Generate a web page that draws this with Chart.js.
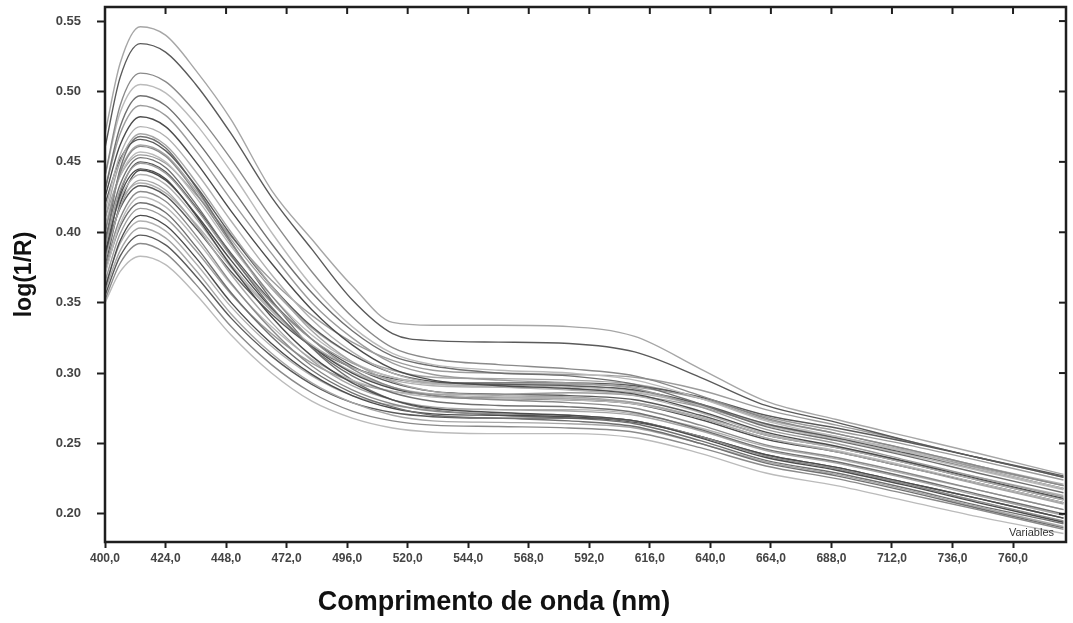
<!DOCTYPE html>
<html>
<head>
<meta charset="utf-8">
<script src="https://cdn.jsdelivr.net/npm/chart.js@4.4.0/dist/chart.umd.min.js"></script>
<style>
    html, body { margin: 0; padding: 0; background: #fff; }
    #wrap { width: 1073px; height: 623px; }
</style>
</head>
<body>
<div id="wrap"><canvas id="spectra-chart" width="1073" height="623"></canvas></div>
<script>
const wavelengths = [400, 406, 414, 424, 436, 450, 466, 482, 498, 514, 530, 556, 584, 610, 636, 662, 690, 718, 746, 780];
const xTicks = [400, 424, 448, 472, 496, 520, 544, 568, 592, 616, 640, 664, 688, 712, 736, 760];
const yTicks = [0.20, 0.25, 0.30, 0.35, 0.40, 0.45, 0.50, 0.55];

// log(1/R) per sample
const s01 = [0.470, 0.520, 0.546, 0.540, 0.515, 0.480, 0.430, 0.395, 0.362, 0.336, 0.334, 0.334, 0.333, 0.326, 0.303, 0.280, 0.267, 0.255, 0.243, 0.228];
const s02 = [0.460, 0.510, 0.534, 0.528, 0.505, 0.470, 0.425, 0.388, 0.352, 0.328, 0.323, 0.322, 0.321, 0.315, 0.297, 0.277, 0.265, 0.252, 0.240, 0.226];
const s03 = [0.440, 0.490, 0.513, 0.507, 0.485, 0.452, 0.410, 0.372, 0.340, 0.318, 0.310, 0.306, 0.303, 0.298, 0.284, 0.268, 0.257, 0.246, 0.234, 0.220];
const s04 = [0.440, 0.485, 0.505, 0.499, 0.477, 0.443, 0.400, 0.362, 0.333, 0.314, 0.306, 0.302, 0.300, 0.295, 0.282, 0.266, 0.255, 0.244, 0.232, 0.218];
const s05 = [0.430, 0.475, 0.497, 0.490, 0.466, 0.432, 0.392, 0.357, 0.330, 0.312, 0.305, 0.300, 0.298, 0.292, 0.278, 0.262, 0.252, 0.241, 0.229, 0.215];
const s06 = [0.430, 0.470, 0.490, 0.483, 0.458, 0.423, 0.385, 0.350, 0.325, 0.307, 0.299, 0.295, 0.293, 0.289, 0.276, 0.260, 0.250, 0.238, 0.226, 0.212];
const s07 = [0.425, 0.462, 0.482, 0.475, 0.450, 0.415, 0.378, 0.345, 0.320, 0.303, 0.295, 0.291, 0.289, 0.285, 0.273, 0.258, 0.248, 0.237, 0.225, 0.211];
const s08 = [0.415, 0.455, 0.475, 0.468, 0.443, 0.408, 0.370, 0.338, 0.315, 0.300, 0.293, 0.290, 0.288, 0.284, 0.272, 0.257, 0.247, 0.236, 0.224, 0.210];
const s09 = [0.410, 0.450, 0.470, 0.462, 0.436, 0.400, 0.362, 0.330, 0.308, 0.294, 0.287, 0.284, 0.283, 0.279, 0.268, 0.254, 0.244, 0.233, 0.221, 0.207];
const s10 = [0.420, 0.452, 0.466, 0.458, 0.433, 0.398, 0.362, 0.333, 0.313, 0.300, 0.294, 0.292, 0.291, 0.288, 0.278, 0.264, 0.254, 0.243, 0.232, 0.218];
const s11 = [0.400, 0.442, 0.461, 0.454, 0.428, 0.392, 0.355, 0.324, 0.303, 0.290, 0.284, 0.281, 0.279, 0.275, 0.263, 0.249, 0.240, 0.229, 0.217, 0.203];
const s12 = [0.405, 0.440, 0.457, 0.450, 0.425, 0.390, 0.355, 0.327, 0.308, 0.297, 0.292, 0.291, 0.290, 0.287, 0.277, 0.263, 0.253, 0.242, 0.231, 0.217];
const s13 = [0.395, 0.434, 0.453, 0.446, 0.420, 0.384, 0.347, 0.318, 0.298, 0.286, 0.280, 0.277, 0.276, 0.272, 0.260, 0.246, 0.237, 0.226, 0.214, 0.200];
const s14 = [0.390, 0.430, 0.449, 0.442, 0.417, 0.383, 0.350, 0.324, 0.307, 0.297, 0.293, 0.292, 0.292, 0.290, 0.282, 0.269, 0.259, 0.249, 0.238, 0.224];
const s15 = [0.385, 0.426, 0.445, 0.438, 0.412, 0.376, 0.340, 0.312, 0.293, 0.281, 0.275, 0.272, 0.270, 0.266, 0.254, 0.240, 0.231, 0.220, 0.208, 0.194];
const s16 = [0.390, 0.424, 0.441, 0.434, 0.410, 0.377, 0.345, 0.320, 0.304, 0.295, 0.291, 0.290, 0.289, 0.286, 0.277, 0.264, 0.255, 0.245, 0.234, 0.221];
const s17 = [0.380, 0.418, 0.437, 0.430, 0.405, 0.370, 0.336, 0.309, 0.291, 0.281, 0.276, 0.274, 0.273, 0.270, 0.259, 0.245, 0.236, 0.225, 0.213, 0.199];
const s18 = [0.385, 0.417, 0.433, 0.426, 0.403, 0.372, 0.342, 0.319, 0.304, 0.296, 0.293, 0.293, 0.293, 0.291, 0.283, 0.270, 0.261, 0.251, 0.240, 0.227];
const s19 = [0.375, 0.410, 0.429, 0.422, 0.398, 0.364, 0.331, 0.305, 0.288, 0.278, 0.273, 0.271, 0.270, 0.266, 0.255, 0.241, 0.232, 0.221, 0.209, 0.195];
const s20 = [0.370, 0.406, 0.425, 0.418, 0.395, 0.363, 0.333, 0.310, 0.295, 0.287, 0.283, 0.282, 0.281, 0.278, 0.268, 0.254, 0.245, 0.234, 0.222, 0.208];
const s21 = [0.372, 0.404, 0.421, 0.414, 0.390, 0.357, 0.326, 0.302, 0.286, 0.276, 0.270, 0.268, 0.266, 0.262, 0.250, 0.236, 0.227, 0.216, 0.204, 0.190];
const s22 = [0.365, 0.399, 0.417, 0.410, 0.387, 0.356, 0.328, 0.307, 0.294, 0.287, 0.285, 0.285, 0.286, 0.284, 0.276, 0.263, 0.254, 0.244, 0.233, 0.220];
const s23 = [0.360, 0.394, 0.412, 0.405, 0.382, 0.350, 0.321, 0.299, 0.284, 0.275, 0.271, 0.270, 0.269, 0.266, 0.255, 0.242, 0.233, 0.222, 0.211, 0.197];
const s24 = [0.362, 0.392, 0.408, 0.401, 0.378, 0.347, 0.319, 0.298, 0.284, 0.277, 0.274, 0.274, 0.274, 0.271, 0.261, 0.248, 0.239, 0.228, 0.217, 0.203];
const s25 = [0.358, 0.387, 0.403, 0.396, 0.373, 0.342, 0.314, 0.293, 0.279, 0.270, 0.266, 0.265, 0.264, 0.261, 0.250, 0.237, 0.228, 0.217, 0.205, 0.191];
const s26 = [0.355, 0.383, 0.398, 0.391, 0.369, 0.339, 0.312, 0.292, 0.279, 0.272, 0.269, 0.268, 0.268, 0.265, 0.255, 0.242, 0.233, 0.222, 0.211, 0.197];
const s27 = [0.352, 0.378, 0.392, 0.385, 0.363, 0.333, 0.306, 0.286, 0.273, 0.266, 0.263, 0.262, 0.261, 0.258, 0.247, 0.234, 0.225, 0.214, 0.203, 0.189];
const s28 = [0.350, 0.372, 0.383, 0.377, 0.356, 0.327, 0.300, 0.280, 0.268, 0.261, 0.258, 0.257, 0.257, 0.254, 0.243, 0.229, 0.220, 0.209, 0.198, 0.186];
const s29 = [0.390, 0.445, 0.468, 0.460, 0.432, 0.393, 0.352, 0.318, 0.295, 0.281, 0.274, 0.270, 0.268, 0.264, 0.252, 0.238, 0.229, 0.218, 0.206, 0.193];
const s30 = [0.410, 0.440, 0.455, 0.449, 0.427, 0.397, 0.366, 0.341, 0.322, 0.309, 0.302, 0.300, 0.299, 0.297, 0.288, 0.274, 0.263, 0.252, 0.240, 0.226];
const s31 = [0.375, 0.420, 0.444, 0.437, 0.413, 0.380, 0.346, 0.319, 0.300, 0.289, 0.284, 0.282, 0.281, 0.278, 0.267, 0.253, 0.244, 0.233, 0.222, 0.208];
const s32 = [0.395, 0.422, 0.435, 0.428, 0.406, 0.375, 0.344, 0.319, 0.301, 0.290, 0.285, 0.283, 0.282, 0.279, 0.269, 0.256, 0.247, 0.237, 0.226, 0.213];
const s33 = [0.400, 0.443, 0.462, 0.455, 0.430, 0.395, 0.360, 0.332, 0.313, 0.302, 0.297, 0.296, 0.295, 0.292, 0.282, 0.267, 0.257, 0.246, 0.234, 0.220];
const s34 = [0.380, 0.428, 0.450, 0.443, 0.418, 0.385, 0.351, 0.324, 0.305, 0.293, 0.287, 0.285, 0.284, 0.281, 0.270, 0.256, 0.247, 0.236, 0.224, 0.210];

const spectra = [s01, s02, s03, s04, s05, s06, s07, s08, s09, s10, s11, s12, s13, s14, s15, s16, s17,
                 s18, s19, s20, s21, s22, s23, s24, s25, s26, s27, s28, s29, s30, s31, s32, s33, s34];

const greys = ['#a6a6a6', '#5a5a5a', '#8a8a8a', '#bbbbbb', '#707070', '#9c9c9c', '#4c4c4c', '#b0b0b0'];

// frame, inner ticks on top/right, x title and the "Variables" mark
const framePlugin = {
    id: 'frame',
    afterDraw(chart) {
        const { ctx, chartArea: a, scales } = chart;
        ctx.save();
        ctx.strokeStyle = '#1e1e1e';
        ctx.lineWidth = 2;
        xTicks.forEach(v => {
            const x = scales.x.getPixelForValue(v);
            ctx.beginPath(); ctx.moveTo(x, a.top); ctx.lineTo(x, a.top + 7); ctx.stroke();
        });
        yTicks.forEach(v => {
            const y = scales.y.getPixelForValue(v);
            ctx.beginPath(); ctx.moveTo(a.right, y); ctx.lineTo(a.right - 7, y); ctx.stroke();
        });
        ctx.lineWidth = 2.5;
        ctx.strokeRect(a.left, a.top, a.right - a.left, a.bottom - a.top);

        ctx.fillStyle = '#333';
        ctx.font = '11px "Liberation Sans", Arial, sans-serif';
        ctx.textAlign = 'right';
        ctx.textBaseline = 'bottom';
        ctx.fillText('Variables', a.right - 12, a.bottom - 4);

        ctx.fillStyle = '#111';
        ctx.font = 'bold 27px "Liberation Sans", Arial, sans-serif';
        ctx.textAlign = 'center';
        ctx.textBaseline = 'middle';
        ctx.fillText('Comprimento de onda (nm)', 494, 603);
        ctx.restore();
    }
};

const ctx = document.getElementById('spectra-chart').getContext('2d');
new Chart(ctx, {
    type: 'line',
    data: {
        datasets: spectra.map((s, i) => ({
            data: wavelengths.map((w, j) => ({ x: w, y: s[j] })),
            borderColor: greys[i % greys.length],
            borderWidth: 1.4,
            pointRadius: 0,
            fill: false,
            cubicInterpolationMode: 'monotone'
        }))
    },
    options: {
        responsive: false,
        animation: false,
        layout: { padding: { top: 7, right: 7, left: 0, bottom: 0 } },
        plugins: { legend: { display: false }, tooltip: { enabled: false } },
        scales: {
            x: {
                type: 'linear',
                min: 400,
                max: 781,
                afterBuildTicks: scale => { scale.ticks = xTicks.map(v => ({ value: v })); },
                afterFit: scale => {
                    scale.height = 81;
                    scale.paddingLeft = 0;
                    scale.paddingRight = 0;
                },
                border: { display: false },
                grid: { drawOnChartArea: false, drawTicks: true, tickLength: 6, tickColor: '#1e1e1e', tickWidth: 2 },
                ticks: {
                    padding: 3,
                    maxRotation: 0,
                    autoSkip: false,
                    color: '#444',
                    font: { family: '"Liberation Sans", Arial, sans-serif', size: 12, weight: 'bold' },
                    callback: v => v.toFixed(1).replace('.', ',')
                }
            },
            y: {
                min: 0.18,
                max: 0.56,
                afterBuildTicks: scale => { scale.ticks = yTicks.map(v => ({ value: v })); },
                afterFit: scale => {
                    scale.width = 105;
                    scale.paddingTop = 0;
                    scale.paddingBottom = 0;
                },
                border: { display: false },
                grid: { drawOnChartArea: false, drawTicks: true, tickLength: 8, tickColor: '#1e1e1e', tickWidth: 2 },
                ticks: {
                    padding: 16,
                    color: '#444',
                    font: { family: '"Liberation Sans", Arial, sans-serif', size: 13, weight: 'bold' },
                    callback: v => v.toFixed(2)
                },
                title: {
                    display: true,
                    text: 'log(1/R)',
                    color: '#111',
                    padding: { top: 11, bottom: 0 },
                    font: { family: '"Liberation Sans", Arial, sans-serif', size: 23, weight: 'bold' }
                }
            }
        }
    },
    plugins: [framePlugin]
});
</script>
</body>
</html>
